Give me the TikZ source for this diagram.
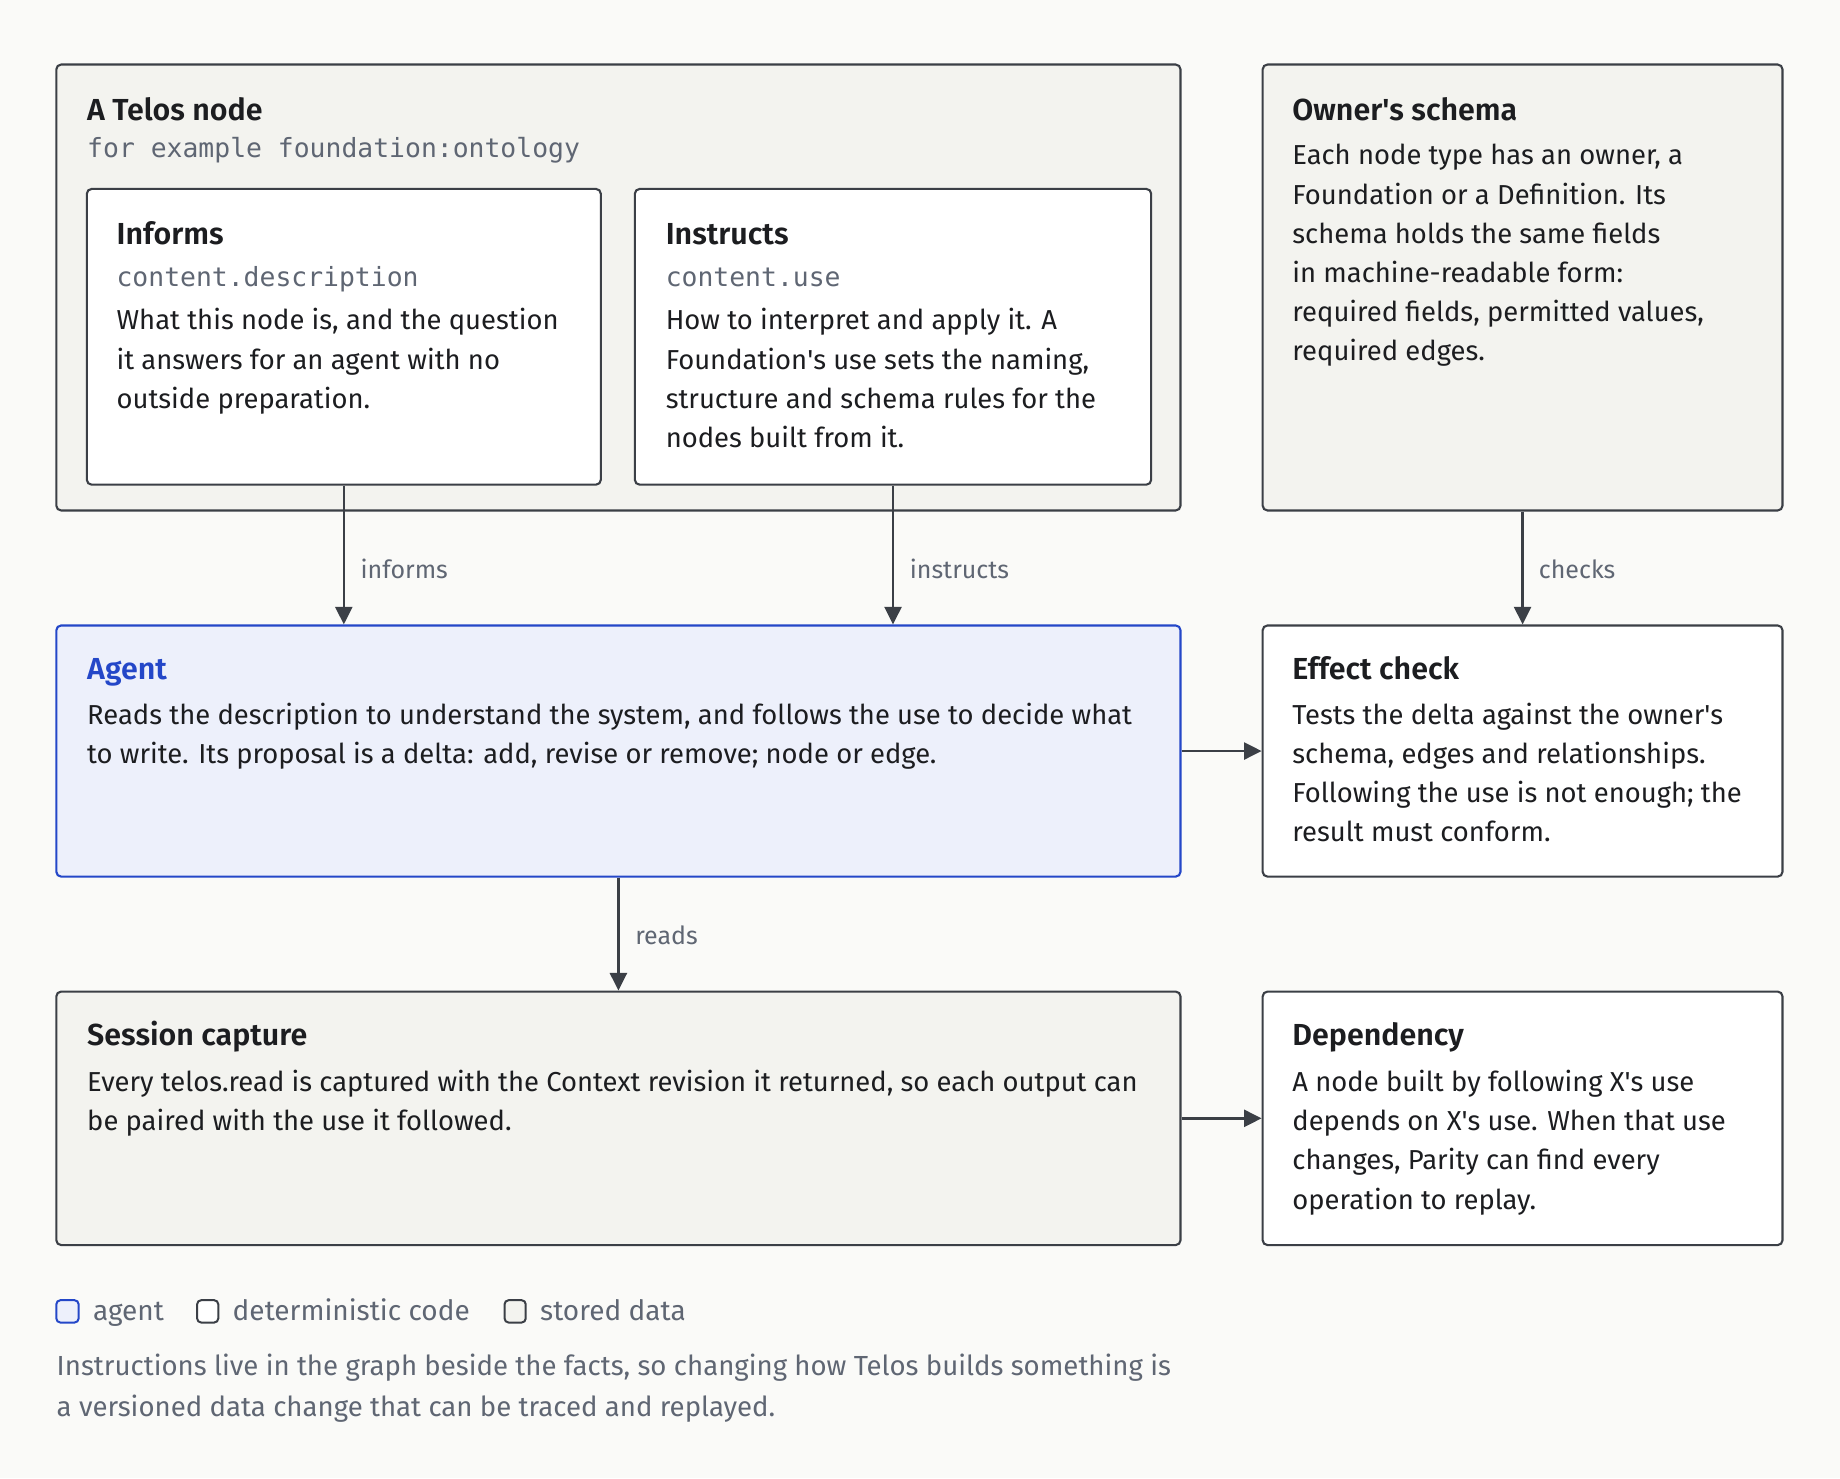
\documentclass[tikz,border=0pt]{standalone}
\usepackage{fontspec}
\setmainfont{Fira Sans}[BoldFont={Fira Sans SemiBold}]
\setmonofont{DejaVu Sans Mono}
\usetikzlibrary{arrows.meta,fit}

\definecolor{paper}{HTML}{FAFAF8}
\definecolor{store}{HTML}{F3F3EF}
\definecolor{edge}{HTML}{3B3F46}
\definecolor{ink}{HTML}{1C1D20}
\definecolor{muted}{HTML}{5F6673}
\definecolor{agentfill}{HTML}{EDF0FB}
\definecolor{agentedge}{HTML}{2447C8}

\tikzset{
	box/.style={draw=edge, line width=1.05pt, rounded corners=2.4pt, inner sep=0pt},
	storebox/.style={box, fill=store},
	codebox/.style={box, fill=white},
	agentbox/.style={box, fill=agentfill, draw=agentedge},
	title/.style={anchor=base west, inner sep=0pt, text=ink, font=\fontsize{15.2}{18}\selectfont\bfseries},
	mono/.style={anchor=base west, inner sep=0pt, text=muted, font=\fontsize{13.2}{16}\selectfont\ttfamily},
	body/.style={anchor=north west, yshift=10.8pt, inner sep=0pt, align=left, text=ink, font=\fontsize{13.7}{19.6}\selectfont, execute at begin node=\rule{0pt}{13.72pt}},
	lbl/.style={anchor=base west, inner sep=0pt, text=muted, font=\fontsize{12.5}{16}\selectfont},
	keylbl/.style={lbl, font=\fontsize{14}{17}\selectfont},
	foot/.style={anchor=north west, yshift=10.3pt, inner sep=0pt, align=left, text=muted, font=\fontsize{13.8}{20.5}\selectfont, execute at begin node=\rule{0pt}{14.35pt}},
	key/.style={draw=edge, line width=1pt, rounded corners=2pt},
	link/.style={draw=edge, line width=1.3pt, -{Triangle[length=8.8pt, width=8.5pt]}},
}

\begin{document}
\begin{tikzpicture}[x=0.5867pt, y=-0.5867pt]
	\fill[paper] (0, 0) rectangle (1568, 1259.6);
	\useasboundingbox (0, 0) rectangle (1568, 1259.6);

	% boxes
	\node [storebox, fit={(48, 55) (1006, 435)}] (telos) {};
	\node [codebox, fit={(74, 161) (512, 413)}] (informs) {};
	\node [codebox, fit={(541, 161) (981, 413)}] (instructs) {};
	\node [storebox, fit={(1076, 55) (1519, 435)}] (schema) {};
	\node [agentbox, fit={(48, 533) (1006, 747)}] (agent) {};
	\node [codebox, fit={(1076, 533) (1519, 747)}] (effect) {};
	\node [storebox, fit={(48, 845) (1006, 1061)}] (session) {};
	\node [codebox, fit={(1076, 845) (1519, 1061)}] (dependency) {};

	% texts
	\node [title] (telostitle) at (74, 102.5) {A Telos node};
	\node [mono] (telosmono) at (74, 134.5) {for example foundation:ontology};

	\node [title] (informstitle) at (99, 208) {Informs};
	\node [mono] (informsmono) at (99, 244) {content.description};
	\node [body] (informsbody) at (99, 281) {What this node is, and the question\\it answers for an agent with no\\outside preparation.};

	\node [title] (instructstitle) at (567, 208) {Instructs};
	\node [mono] (instructsmono) at (567, 244) {content.use};
	\node [body] (instructsbody) at (567, 281) {How to interpret and apply it. A\\Foundation\textquotesingle s use sets the naming,\\structure and schema rules for the\\nodes built from it.};

	\node [title] (schematitle) at (1101, 102.5) {Owner\textquotesingle s schema};
	\node [body] (schemabody) at (1101, 141) {Each node type has an owner, a\\Foundation or a Definition. Its\\schema holds the same fields\\in machine-readable form:\\required fields, permitted values,\\required edges.};

	\node [title, text=agentedge] (agenttitle) at (74, 579) {Agent};
	\node [body] (agentbody) at (74, 617) {Reads the description to understand the system, and follows the use to decide what\\to write. Its proposal is a delta: add, revise or remove; node or edge.};

	\node [title] (effecttitle) at (1101, 579) {Effect check};
	\node [body] (effectbody) at (1101, 617) {Tests the delta against the owner\textquotesingle s\\schema, edges and relationships.\\Following the use is not enough; the\\result must conform.};

	\node [title] (sessiontitle) at (74, 891) {Session capture};
	\node [body] (sessionbody) at (74, 930) {Every telos.read is captured with the Context revision it returned, so each output can\\be paired with the use it followed.};

	\node [title] (dependencytitle) at (1101, 891) {Dependency};
	\node [body] (dependencybody) at (1101, 930) {A node built by following X\textquotesingle s use\\depends on X\textquotesingle s use. When that use\\changes, Parity can find every\\operation to replay.};

	% connectors
	\draw [link] (informs.south) to (informs.south |- agent.north);
	\draw [link] (instructs.south) to (instructs.south |- agent.north);
	\draw [link] (schema.south) to (effect.north);
	\draw [link] (agent.south) to (session.north);
	\draw [link] (agent.east) to (effect.west);
	\draw [link] (session.east) to (dependency.west);

	\node [lbl] (informslbl) at (307, 493) {informs};
	\node [lbl] (instructslbl) at (775, 493) {instructs};
	\node [lbl] (checkslbl) at (1311, 493) {checks};
	\node [lbl] (readslbl) at (541, 805) {reads};

	% legend
	\draw [key, draw=agentedge, fill=agentfill] (48, 1108) rectangle (67, 1127);
	\node [keylbl] (agentkey) at (79, 1125) {agent};
	\draw [key, fill=white] (168, 1108) rectangle (186, 1127);
	\node [keylbl] (codekey) at (198, 1125) {deterministic code};
	\draw [key, fill=store] (430, 1108) rectangle (448, 1127);
	\node [keylbl] (storekey) at (460, 1125) {stored data};

	\node [foot] (footer) at (48, 1171) {Instructions live in the graph beside the facts, so changing how Telos builds something is\\a versioned data change that can be traced and replayed.};
\end{tikzpicture}
\end{document}
